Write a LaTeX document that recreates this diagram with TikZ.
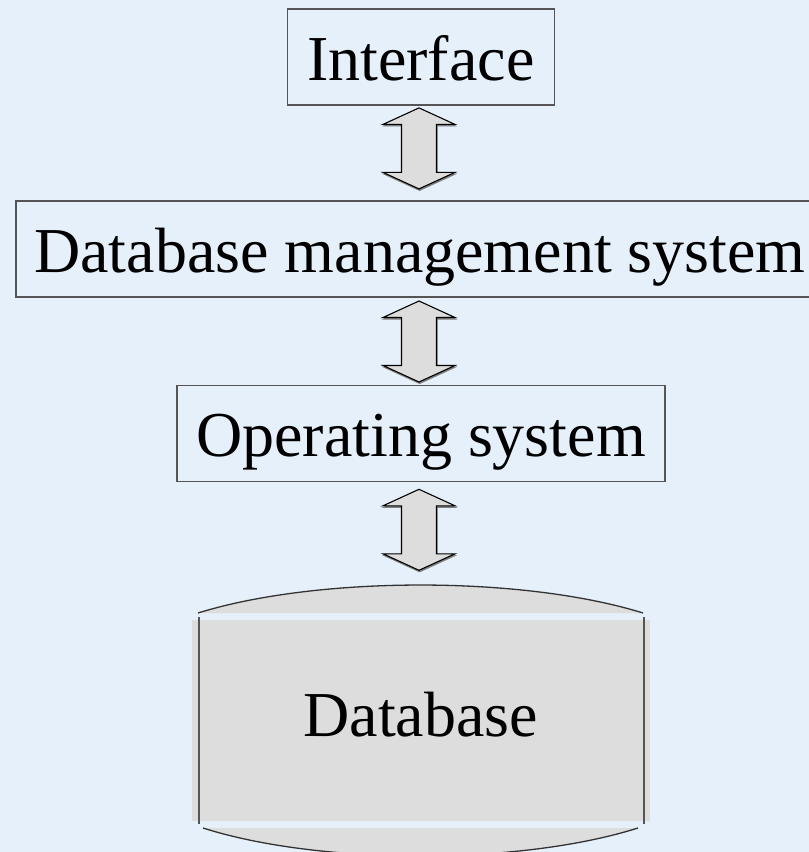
\documentclass[tikz,border=0pt]{standalone}
\usepackage{fontspec}
\setmainfont{Liberation Serif}
\usetikzlibrary{calc}
\definecolor{bgblue}{HTML}{E6F0FA}
\definecolor{capgrey}{HTML}{DDDDDD}
\definecolor{framegrey}{HTML}{555555}
\definecolor{shadowgrey}{HTML}{808080}
\tikzset{
  layerbox/.style={draw=framegrey, line width=1.2pt, rectangle, inner sep=0pt,
    minimum height=96pt, text height=57.6pt, text depth=11.5pt,
    font=\fontsize{64}{70}\selectfont},
  dbtext/.style={inner sep=0pt, anchor=base, font=\fontsize{64}{70}\selectfont},
  % vertical double-headed block arrow, tip at the pic origin, pointing down
  pics/updown/.style={code={
    \draw[shadowgrey, fill=shadowgrey, line width=0.8pt, shift={(0.6,1.6)}]
      (0,0) -- (36,16.5) -- (17.5,16.5) -- (17.5,64.5) -- (36,64.5) -- (0,81)
      -- (-36,64.5) -- (-17.5,64.5) -- (-17.5,16.5) -- (-36,16.5) -- cycle;
    \draw[black, fill=capgrey, line width=1.1pt, line join=miter]
      (0,0) -- (36,16.5) -- (17.5,16.5) -- (17.5,64.5) -- (36,64.5) -- (0,81)
      -- (-36,64.5) -- (-17.5,64.5) -- (-17.5,16.5) -- (-36,16.5) -- cycle;
  }},
  capline/.style={draw=black!80, line width=1.3pt},
  sideline/.style={draw=framegrey, line width=1.6pt}
}
\begin{document}
\begin{tikzpicture}[x=1pt, y=-1pt]
  % page and background
  \fill[bgblue] (0,0) rectangle (809,852);
  \useasboundingbox (0,0) rectangle (809,852);

  % the three layers
  \node[layerbox, minimum width=267pt] (iface) at (420.7,57) {Interface};
  \node[layerbox, minimum width=808pt] (dbms) at (420,249) {Database management system};
  \node[layerbox, minimum width=488pt] (os) at (421,433.7) {Operating system};

  % arrows between the layers
  \coordinate (a1) at ($(iface.south -| 419,0)+(0,2.3)$);
  \coordinate (a2) at ($(dbms.south -| 419,0)+(0,3.4)$);
  \coordinate (a3) at ($(os.south -| 419,0)+(0,7)$);
  \pic at (a1) {updown};
  \pic at (a2) {updown};
  \pic at (a3) {updown};

  % database cylinder
  \coordinate (tl) at (198,613);
  \coordinate (tr) at (643,613);
  \fill[capgrey] (tl) .. controls (318,575.7) and (523,575.7) .. (tr) -- cycle;
  \draw[capline] (tl) .. controls (318,575.7) and (523,575.7) .. (tr);
  \fill[capgrey] (192,620) rectangle (650,821);
  \coordinate (bl) at (203,828);
  \coordinate (br) at (638,828);
  \fill[capgrey] (bl) .. controls (320,865.3) and (520,865.3) .. (br) -- cycle;
  \draw[capline] (bl) .. controls (320,865.3) and (520,865.3) .. (br);
  \draw[sideline] (199,617) -- (199,824);
  \draw[sideline] (644,617) -- (644,824);
  \node[dbtext] (db) at (420.8,736) {Database};
\end{tikzpicture}
\end{document}
